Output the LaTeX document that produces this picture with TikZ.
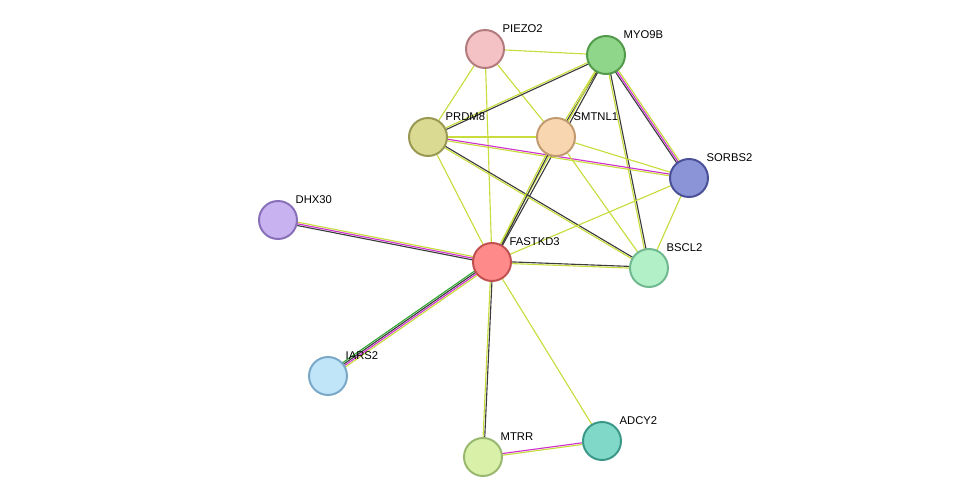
\documentclass[tikz,border=0pt]{standalone}
\usepackage{fontspec}
\setmainfont{Liberation Sans}
\usetikzlibrary{calc,backgrounds}

\definecolor{tm}{HTML}{C8DC3C}
\definecolor{co}{HTML}{3C3C3C}
\definecolor{ex}{HTML}{D030D0}
\definecolor{nb}{HTML}{30A830}
\definecolor{piezoF}{RGB}{244,194,196}\definecolor{piezoD}{RGB}{178,122,124}
\definecolor{myoF}{RGB}{144,214,138}\definecolor{myoD}{RGB}{80,154,74}
\definecolor{prdmF}{RGB}{218,218,146}\definecolor{prdmD}{RGB}{152,152,82}
\definecolor{smtnlF}{RGB}{248,214,176}\definecolor{smtnlD}{RGB}{194,154,112}
\definecolor{sorbsF}{RGB}{140,148,216}\definecolor{sorbsD}{RGB}{74,80,152}
\definecolor{dhxF}{RGB}{200,178,240}\definecolor{dhxD}{RGB}{136,112,184}
\definecolor{fastF}{RGB}{255,138,138}\definecolor{fastD}{RGB}{192,80,80}
\definecolor{bsclF}{RGB}{178,240,200}\definecolor{bsclD}{RGB}{112,184,144}
\definecolor{iarsF}{RGB}{192,228,248}\definecolor{iarsD}{RGB}{120,168,200}
\definecolor{mtrrF}{RGB}{216,240,168}\definecolor{mtrrD}{RGB}{152,184,112}
\definecolor{adcyF}{RGB}{128,216,200}\definecolor{adcyD}{RGB}{58,152,136}

% one strand of an edge, shifted sideways by #3
\newcommand{\strand}[4]{\draw[#4, line width=0.8pt] ($(#1)!#3!90:(#2)$) -- ($(#2)!#3!-90:(#1)$);}

\begin{document}
\begin{tikzpicture}[x=0.025cm, y=-0.025cm,
    protein/.style={circle, minimum size=0.95cm, line width=1.4pt, inner sep=0pt,
                    fill=#1F, draw=#1D},
    lab/.style={font=\footnotesize, anchor=south west, xshift=-1pt, yshift=-2pt},
]
\useasboundingbox (0,0) rectangle (975,503);

% proteins
\node[protein=piezo, label={[lab]above right:PIEZO2}] (piezo) at (485,49) {};
\node[protein=myo, label={[lab]above right:MYO9B}] (myo) at (606,55) {};
\node[protein=prdm, label={[lab]above right:PRDM8}] (prdm) at (428,137) {};
\node[protein=smtnl, label={[lab]above right:SMTNL1}] (smtnl) at (556,137) {};
\node[protein=sorbs, label={[lab]above right:SORBS2}] (sorbs) at (689,178) {};
\node[protein=dhx, label={[lab]above right:DHX30}] (dhx) at (278,220) {};
\node[protein=fast, label={[lab]above right:FASTKD3}] (fast) at (492,262) {};
\node[protein=bscl, label={[lab]above right:BSCL2}] (bscl) at (649,268) {};
\node[protein=iars, label={[lab]above right:IARS2}] (iars) at (328,376) {};
\node[protein=mtrr, label={[lab]above right:MTRR}] (mtrr) at (483,457) {};
\node[protein=adcy, label={[lab]above right:ADCY2}] (adcy) at (602,441) {};

% edges
\begin{scope}[on background layer]
\strand{piezo}{myo}{0pt}{tm}
\strand{piezo}{prdm}{0pt}{tm}
\strand{piezo}{smtnl}{0pt}{tm}
\strand{piezo}{fast}{0pt}{tm}
\strand{myo}{prdm}{0.6pt}{co}
\strand{myo}{prdm}{-0.6pt}{tm}
\strand{myo}{smtnl}{0.6pt}{co}
\strand{myo}{smtnl}{-0.6pt}{tm}
\strand{myo}{fast}{0.8pt}{co}
\strand{myo}{fast}{-0.8pt}{tm}
\strand{myo}{bscl}{0.6pt}{co}
\strand{myo}{bscl}{-0.6pt}{tm}
\strand{myo}{sorbs}{1.2pt}{tm}
\strand{myo}{sorbs}{0pt}{ex}
\strand{myo}{sorbs}{-1.2pt}{co}
\strand{prdm}{smtnl}{0pt}{tm}
\strand{prdm}{sorbs}{0.6pt}{ex}
\strand{prdm}{sorbs}{-0.6pt}{tm}
\strand{prdm}{fast}{0pt}{tm}
\strand{prdm}{bscl}{0.6pt}{co}
\strand{prdm}{bscl}{-0.6pt}{tm}
\strand{smtnl}{fast}{0.6pt}{co}
\strand{smtnl}{fast}{-0.6pt}{tm}
\strand{smtnl}{bscl}{0pt}{tm}
\strand{smtnl}{sorbs}{0pt}{tm}
\strand{fast}{sorbs}{0pt}{tm}
\strand{bscl}{sorbs}{0pt}{tm}
\strand{dhx}{fast}{1.2pt}{tm}
\strand{dhx}{fast}{0pt}{ex}
\strand{dhx}{fast}{-1.2pt}{co}
\strand{fast}{bscl}{0.6pt}{co}
\strand{fast}{bscl}{-0.6pt}{tm}
\strand{fast}{iars}{1.8pt}{tm}
\strand{fast}{iars}{0.6pt}{ex}
\strand{fast}{iars}{-0.6pt}{co}
\strand{fast}{iars}{-1.8pt}{nb}
\strand{fast}{mtrr}{0.6pt}{co}
\strand{fast}{mtrr}{-0.6pt}{tm}
\strand{fast}{adcy}{0pt}{tm}
\strand{mtrr}{adcy}{0.6pt}{ex}
\strand{mtrr}{adcy}{-0.6pt}{tm}
\end{scope}
\end{tikzpicture}
\end{document}
